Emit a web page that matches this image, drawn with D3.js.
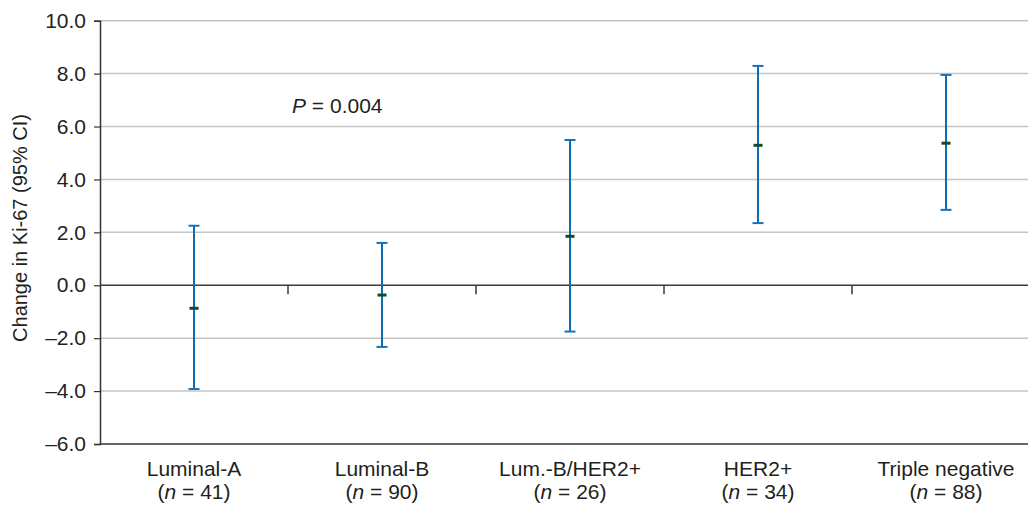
<!DOCTYPE html>
<html>
<head>
<meta charset="utf-8">
<script src="https://cdn.jsdelivr.net/npm/d3@7"></script>
<style>
  body { margin: 0; background: #fff; }
  svg text { font-family: "Liberation Sans", Arial, sans-serif; fill: #231f20; }
</style>
</head>
<body>
<div id="chart"></div>
<script>
// datos
var categories = ["Luminal-A", "Luminal-B", "Lum.-B/HER2+", "HER2+", "Triple negative"];
var counts = [41, 90, 26, 34, 88];
var means = [-0.87, -0.37, 1.85, 5.29, 5.37];
var lower = [-3.92, -2.33, -1.75, 2.35, 2.85];
var upper = [2.25, 1.60, 5.49, 8.29, 7.95];
var yTicks = [-6, -4, -2, 0, 2, 4, 6, 8, 10];

var width = 1028, height = 505,
    plotLeft = 100, plotTop = 20.7, plotBottom = 444,
    band = 188,
    fontSize = "21px";

var svg = d3.select("#chart").append("svg")
    .attr("width", width)
    .attr("height", height);

var y = d3.scaleLinear().domain([-6, 10]).range([plotBottom, plotTop]);

// el eje x sigue mas alla del borde derecho de la imagen
var x = d3.scaleBand()
    .domain(categories)
    .range([plotLeft, plotLeft + band * categories.length]);

// lineas de rejilla
svg.selectAll(".grid")
    .data(yTicks.filter(function (t) { return t !== 0 && t !== -6 }))
    .enter().append("line")
    .attr("x1", plotLeft).attr("x2", width)
    .attr("y1", function (d) { return y(d) })
    .attr("y2", function (d) { return y(d) })
    .attr("stroke", "#c4c4c4")
    .attr("stroke-width", 1.5);

// eje y
var yAxis = svg.append("g")
    .attr("transform", "translate(" + plotLeft + ",0)")
    .call(d3.axisLeft(y).tickValues(yTicks).tickSize(6).tickPadding(8)
        .tickFormat(function (d) { return d < 0 ? "\u2013" + Math.abs(d).toFixed(1) : d.toFixed(1) }));
yAxis.select(".domain").attr("stroke", "#333").attr("stroke-width", 1.5);
yAxis.selectAll(".tick line").attr("stroke", "#333").attr("stroke-width", 1.2);
yAxis.selectAll(".tick text")
    .style("font-size", fontSize)
    .style("font-family", "'Liberation Sans', Arial, sans-serif")
    .attr("fill", "#231f20");

// linea de cero con marcas de categoria
svg.append("line")
    .attr("x1", plotLeft).attr("x2", width)
    .attr("y1", y(0)).attr("y2", y(0))
    .attr("stroke", "#3a3a3a").attr("stroke-width", 1.5);

svg.selectAll(".ctick")
    .data(categories.slice(1))
    .enter().append("line")
    .attr("x1", function (d) { return x(d) }).attr("x2", function (d) { return x(d) })
    .attr("y1", y(0)).attr("y2", y(0) + 9)
    .attr("stroke", "#3a3a3a").attr("stroke-width", 1.5);

// linea inferior
svg.append("line")
    .attr("x1", plotLeft).attr("x2", width)
    .attr("y1", plotBottom).attr("y2", plotBottom)
    .attr("stroke", "#333").attr("stroke-width", 1.5);

// barras de error
var g = svg.selectAll(".err")
    .data(categories)
    .enter().append("g")
    .attr("class", "err")
    .attr("transform", function (d) { return "translate(" + (x(d) + x.bandwidth() / 2) + ",0)" });

g.append("line")
    .attr("y1", function (d, i) { return y(upper[i]) })
    .attr("y2", function (d, i) { return y(lower[i]) })
    .attr("stroke", "#0b6db5").attr("stroke-width", 2);

[upper, lower].forEach(function (arr) {
    g.append("line")
        .attr("x1", -5.5).attr("x2", 5.5)
        .attr("y1", function (d, i) { return y(arr[i]) })
        .attr("y2", function (d, i) { return y(arr[i]) })
        .attr("stroke", "#1572bb").attr("stroke-width", 2);
});

g.append("line")
    .attr("x1", -4.5).attr("x2", 4.5)
    .attr("y1", function (d, i) { return y(means[i]) })
    .attr("y2", function (d, i) { return y(means[i]) })
    .attr("stroke", "#0d4d2a").attr("stroke-width", 3);

// etiquetas de categoria
var lab = g.append("text")
    .attr("text-anchor", "middle")
    .style("font-size", fontSize);
lab.append("tspan").attr("x", 0).attr("y", 476).text(function (d) { return d });
var l2 = lab.append("tspan").attr("x", 0).attr("y", 499);
l2.append("tspan").text("(");
l2.append("tspan").style("font-style", "italic").text("n");
l2.append("tspan").text(function (d, i) { return " = " + counts[i] + ")" });

// titulo eje y
svg.append("text")
    .attr("transform", "translate(27,228) rotate(-90)")
    .attr("text-anchor", "middle")
    .style("font-size", "20px")
    .text("Change in Ki-67 (95% CI)");

// valor P
var p = svg.append("text")
    .attr("x", 292).attr("y", 113)
    .style("font-size", fontSize);
p.append("tspan").style("font-style", "italic").text("P");
p.append("tspan").text(" = 0.004");
</script>
</body>
</html>
